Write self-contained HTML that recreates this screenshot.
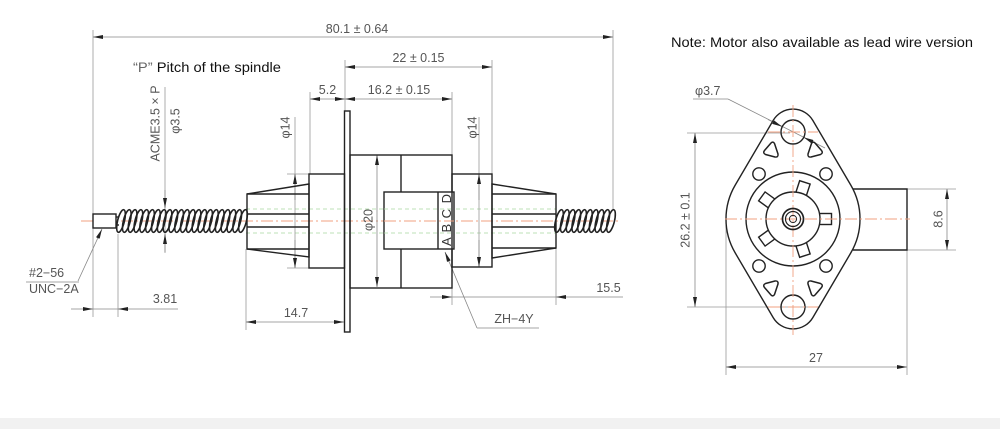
<!DOCTYPE html>
<html><head><meta charset="utf-8"><style>
html,body{margin:0;padding:0;background:#fff;}
svg{display:block;}
text{font-family:"Liberation Sans",Arial,sans-serif;}
</style></head><body>
<svg width="1000" height="429" viewBox="0 0 1000 429" xmlns="http://www.w3.org/2000/svg">
<defs>
<marker id="a" viewBox="0 0 10 4" refX="10" refY="2" markerWidth="10" markerHeight="4" markerUnits="userSpaceOnUse" orient="auto-start-reverse"><path d="M0,0 L10,2 L0,4z" fill="#222"/></marker>
<ellipse id="c" cx="0" cy="221" rx="3.4" ry="11.6" transform="rotate(14 0 221)" fill="none" stroke="#222" stroke-width="1.6"/>
</defs>
<rect x="0" y="418" width="1000" height="11" fill="#f1f1f1"/>

<!-- center & hidden lines left view -->
<line x1="81" y1="221" x2="620" y2="221" stroke="#f0a080" stroke-width="0.9" stroke-dasharray="12 3 2 3"/>
<line x1="246" y1="209" x2="556" y2="209" stroke="#a8d8a0" stroke-width="0.8" stroke-dasharray="4 3"/>
<line x1="246" y1="233" x2="556" y2="233" stroke="#a8d8a0" stroke-width="0.8" stroke-dasharray="4 3"/>

<!-- extension lines -->
<g stroke="#999" stroke-width="0.8" fill="none">
<line x1="93" y1="30" x2="93" y2="317"/>
<line x1="118" y1="234" x2="118" y2="317"/>
<line x1="613" y1="30" x2="613" y2="209"/>
<line x1="345" y1="60" x2="345" y2="111"/>
<line x1="492" y1="60" x2="492" y2="174"/>
<line x1="452" y1="92" x2="452" y2="155"/>
<line x1="310" y1="92" x2="310" y2="174"/>
<line x1="246" y1="249" x2="246" y2="330"/>
<line x1="452" y1="288" x2="452" y2="305"/>
<line x1="556" y1="248" x2="556" y2="305"/>
<line x1="287" y1="174" x2="309" y2="174"/>
<line x1="287" y1="268" x2="309" y2="268"/>
<line x1="165" y1="87" x2="165" y2="253"/>
<line x1="295" y1="117" x2="295" y2="268"/>
<line x1="479" y1="117" x2="479" y2="267"/>
</g>

<!-- dimension lines -->
<g stroke="#888" stroke-width="0.8" fill="none">
<line x1="93" y1="37" x2="613" y2="37" marker-start="url(#a)" marker-end="url(#a)"/>
<line x1="345" y1="67" x2="492" y2="67" marker-start="url(#a)" marker-end="url(#a)"/>
<line x1="345" y1="99" x2="452" y2="99" marker-start="url(#a)" marker-end="url(#a)"/>
<line x1="310" y1="99" x2="345" y2="99" marker-start="url(#a)" marker-end="url(#a)"/>
<line x1="246" y1="322" x2="344" y2="322" marker-start="url(#a)" marker-end="url(#a)"/>
<line x1="71" y1="309" x2="93" y2="309" marker-end="url(#a)"/>
<line x1="93" y1="309" x2="118" y2="309"/>
<line x1="178" y1="309" x2="118" y2="309" marker-end="url(#a)"/>
<line x1="430" y1="297" x2="452" y2="297" marker-end="url(#a)"/>
<line x1="452" y1="297" x2="556" y2="297"/>
<line x1="623" y1="297" x2="556" y2="297" marker-end="url(#a)"/>
<line x1="295" y1="200" x2="295" y2="174" marker-end="url(#a)"/>
<line x1="295" y1="240" x2="295" y2="268" marker-end="url(#a)"/>
<line x1="479" y1="200" x2="479" y2="174" marker-end="url(#a)"/>
<line x1="479" y1="240" x2="479" y2="267" marker-end="url(#a)"/>
<line x1="377" y1="155" x2="377" y2="287" marker-start="url(#a)" marker-end="url(#a)"/>
<line x1="165" y1="190" x2="165" y2="208" marker-end="url(#a)"/>
<line x1="165" y1="252" x2="165" y2="234" marker-end="url(#a)"/>
<!-- leaders -->
<line x1="78" y1="281" x2="102" y2="229" marker-end="url(#a)"/>
<line x1="26" y1="282" x2="79" y2="282"/>
<line x1="477" y1="328" x2="445" y2="252" marker-end="url(#a)"/>
<line x1="477" y1="328" x2="539" y2="328"/>
</g>

<!-- left view body -->
<g stroke="#222" stroke-width="1.4" fill="none">
<rect x="93" y="214" width="23" height="14" fill="#fff"/>
<line x1="116" y1="217" x2="119" y2="217"/><line x1="116" y1="225" x2="119" y2="225"/>
<rect x="344.5" y="111" width="5.5" height="221"/>
<rect x="309" y="174" width="35.5" height="94"/>
<path d="M247,194 L309,184 L309,257 L247,249 Z"/>
<line x1="247" y1="194" x2="309" y2="194"/>
<line x1="247" y1="214" x2="309" y2="214"/>
<line x1="247" y1="227" x2="309" y2="227"/>
<line x1="247" y1="249" x2="309" y2="249"/>
<rect x="350" y="155" width="102" height="133"/>
<line x1="401" y1="155" x2="401" y2="192"/>
<line x1="401" y1="249" x2="401" y2="288"/>
<rect x="384" y="192" width="70" height="57" fill="#fff"/>
<line x1="438" y1="192" x2="438" y2="249"/>
<rect x="452" y="174" width="40" height="93"/>
<path d="M492,184 L556,194 L556,248 L492,258 Z"/>
<line x1="492" y1="194" x2="556" y2="194"/>
<line x1="492" y1="214" x2="556" y2="214"/>
<line x1="492" y1="227" x2="556" y2="227"/>
<line x1="492" y1="248" x2="556" y2="248"/>
</g>
<line x1="384" y1="209" x2="454" y2="209" stroke="#a8d8a0" stroke-width="0.8" stroke-dasharray="4 3"/>
<line x1="384" y1="233" x2="454" y2="233" stroke="#a8d8a0" stroke-width="0.8" stroke-dasharray="4 3"/>
<line x1="384" y1="221" x2="454" y2="221" stroke="#f0a080" stroke-width="0.9" stroke-dasharray="12 3 2 3"/>

<!-- threads -->
<g>
<use href="#c" x="121"/><use href="#c" x="126.8"/><use href="#c" x="132.6"/><use href="#c" x="138.4"/><use href="#c" x="144.2"/><use href="#c" x="150"/><use href="#c" x="155.9"/><use href="#c" x="161.7"/><use href="#c" x="167.5"/><use href="#c" x="173.3"/><use href="#c" x="179.1"/><use href="#c" x="184.9"/><use href="#c" x="190.7"/><use href="#c" x="196.5"/><use href="#c" x="202.3"/><use href="#c" x="208.1"/><use href="#c" x="213.9"/><use href="#c" x="219.7"/><use href="#c" x="225.5"/><use href="#c" x="231.4"/><use href="#c" x="237.2"/><use href="#c" x="243"/>
<use href="#c" x="559"/><use href="#c" x="564.8"/><use href="#c" x="570.6"/><use href="#c" x="576.3"/><use href="#c" x="582.1"/><use href="#c" x="587.9"/><use href="#c" x="593.7"/><use href="#c" x="599.4"/><use href="#c" x="605.2"/><use href="#c" x="611"/>
</g>

<!-- left view texts -->
<g fill="#555" font-size="12.5">
<text x="357" y="33" text-anchor="middle">80.1 ± 0.64</text>
<text x="418.5" y="62" text-anchor="middle">22 ± 0.15</text>
<text x="399" y="94" text-anchor="middle">16.2 ± 0.15</text>
<text x="327.5" y="94" text-anchor="middle">5.2</text>
<text x="165" y="303" text-anchor="middle">3.81</text>
<text x="296" y="317" text-anchor="middle">14.7</text>
<text x="608.5" y="292" text-anchor="middle">15.5</text>
<text x="514" y="323" text-anchor="middle">ZH−4Y</text>
<text x="29" y="277">#2−56</text>
<text x="29" y="293">UNC−2A</text>
<text transform="translate(159.5,123.5) rotate(-90)" text-anchor="middle">ACME3.5 × P</text>
<text transform="translate(179.5,121) rotate(-90)" text-anchor="middle">φ3.5</text>
<text transform="translate(289.5,127.5) rotate(-90)" text-anchor="middle">φ14</text>
<text transform="translate(476.5,127.5) rotate(-90)" text-anchor="middle">φ14</text>
<text transform="translate(372.5,220) rotate(-90)" text-anchor="middle">φ20</text>
<text transform="translate(451,246) rotate(-90)" font-size="13" textLength="52" lengthAdjust="spacing" fill="#333">A B C D</text>
</g>
<text x="133" y="72" font-size="14" textLength="148" lengthAdjust="spacingAndGlyphs" fill="#111"><tspan fill="#666">“P”</tspan> Pitch of the spindle</text>
<text x="671" y="47" font-size="14" textLength="302" lengthAdjust="spacingAndGlyphs" fill="#111">Note: Motor also available as lead wire version</text>

<!-- right view -->
<g stroke="#999" stroke-width="0.8" fill="none">
<line x1="687" y1="133" x2="790" y2="133"/>
<line x1="687" y1="307" x2="820" y2="307"/>
<line x1="726" y1="225" x2="726" y2="375"/>
<line x1="907" y1="250" x2="907" y2="375"/>
<line x1="907" y1="189" x2="956" y2="189"/>
<line x1="907" y1="250" x2="956" y2="250"/>
</g>
<g stroke="#888" stroke-width="0.8" fill="none">
<line x1="695" y1="133" x2="695" y2="307" marker-start="url(#a)" marker-end="url(#a)"/>
<line x1="726" y1="367" x2="907" y2="367" marker-start="url(#a)" marker-end="url(#a)"/>
<line x1="947" y1="189" x2="947" y2="250" marker-start="url(#a)" marker-end="url(#a)"/>
<line x1="693" y1="99" x2="728" y2="99"/>
<line x1="728" y1="99" x2="825" y2="148"/>
<line x1="768" y1="119.5" x2="782" y2="126.6" marker-end="url(#a)"/>
<line x1="817" y1="144" x2="803.7" y2="137.4" marker-end="url(#a)"/>
</g>
<g stroke="#222" stroke-width="1.4" fill="none">
<path d="M773.2,120.4 A23,23 0 0,1 812.8,120.4 L850.8,185.1 A67,67 0 0,1 850.8,252.9 L812.8,317.6 A23,23 0 0,1 773.2,317.6 L735.2,252.9 A67,67 0 0,1 735.2,185.1 Z"/>
<path d="M853,189 L907,189 L907,250 L853,250"/>
<circle cx="793" cy="132" r="12"/>
<circle cx="793" cy="307" r="12"/>
<circle cx="759" cy="174" r="6.2"/>
<circle cx="826" cy="174" r="6.2"/>
<circle cx="759" cy="266" r="6.2"/>
<circle cx="826" cy="266" r="6.2"/>
<g stroke-width="1.5" stroke-linejoin="round">
<path d="M771,143 Q773,141 774.5,143.5 L778,154 Q778.5,157.5 775,157 L765.5,154.5 Q762.5,153 764.5,150.5 Z"/>
<path d="M815,143 Q813,141 811.5,143.5 L808,154 Q807.5,157.5 811,157 L820.5,154.5 Q823.5,153 821.5,150.5 Z"/>
<path d="M771,295 Q773,297 774.5,294.5 L778,284 Q778.5,280.5 775,281 L765.5,283.5 Q762.5,285 764.5,287.5 Z"/>
<path d="M815,295 Q813,297 811.5,294.5 L808,284 Q807.5,280.5 811,281 L820.5,283.5 Q823.5,285 821.5,287.5 Z"/>
</g>
<circle cx="793" cy="219" r="47"/>
<g transform="translate(793,219)" fill="#fff">
<rect x="22" y="-5.5" width="16.5" height="11" transform="rotate(0)"/>
<rect x="22" y="-5.5" width="16.5" height="11" transform="rotate(72)"/>
<rect x="22" y="-5.5" width="16.5" height="11" transform="rotate(144)"/>
<rect x="22" y="-5.5" width="16.5" height="11" transform="rotate(216)"/>
<rect x="22" y="-5.5" width="16.5" height="11" transform="rotate(288)"/>
</g>
<circle cx="793" cy="219" r="27" fill="#fff"/>
</g>
<g stroke="#f0a080" stroke-width="0.9" fill="none" stroke-dasharray="12 3 2 3">
<line x1="725" y1="219" x2="910" y2="219"/>
<line x1="793" y1="105" x2="793" y2="335"/>
<line x1="768" y1="132" x2="818" y2="132"/>
<line x1="768" y1="307" x2="818" y2="307"/>
</g>
<g stroke="#222" fill="none">
<circle cx="793" cy="219" r="10.5" stroke-width="1.7"/>
<circle cx="793" cy="219" r="7.5" stroke-width="1.2"/>
<circle cx="793" cy="219" r="3.6" stroke-width="1"/>
</g>
<g fill="#555" font-size="12.5">
<text x="695" y="95">φ3.7</text>
<text x="816" y="362" text-anchor="middle">27</text>
<text transform="translate(942.5,219) rotate(-90)" text-anchor="middle">8.6</text>
<text transform="translate(689.5,220) rotate(-90)" text-anchor="middle">26.2 ± 0.1</text>
</g>
</svg>
</body></html>
